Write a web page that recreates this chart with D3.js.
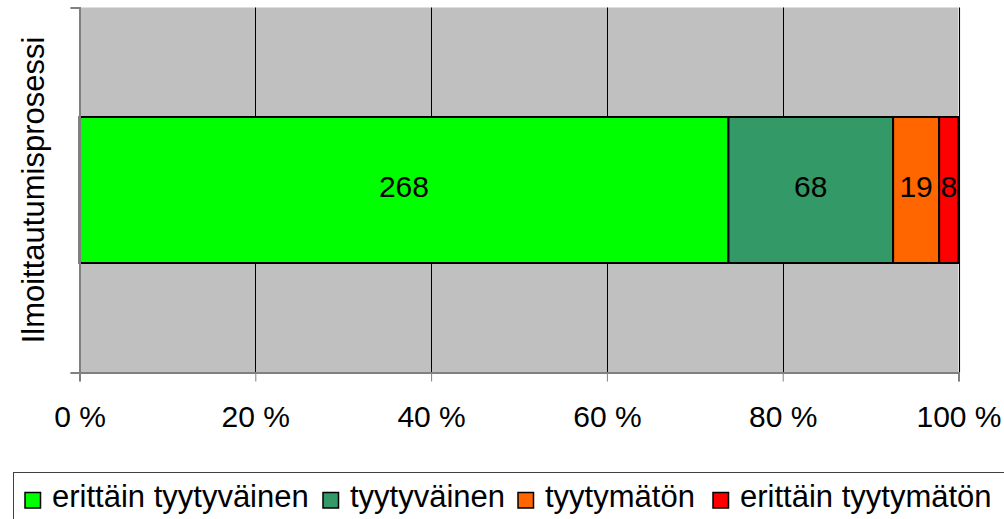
<!DOCTYPE html>
<html lang="fi">
  <head>
    <meta charset="UTF-8" />
    <title>Ilmoittautumisprosessi</title>
    <script src="https://d3js.org/d3.v7.min.js"></script>
    <style>
      * {
        margin: 0;
        padding: 0;
      }
      body {
        background: #fff;
      }
      text {
        font-family: "Liberation Sans", Arial, sans-serif;
        fill: #000;
      }
    </style>
  </head>

  <body></body>

  <script>
    let w = 1004;
    let h = 519;

    // data
    const category = "Ilmoittautumisprosessi";
    const seriesNames = ["erittäin tyytyväinen", "tyytyväinen", "tyytymätön", "erittäin tyytymätön"];
    const seriesValues = [268, 68, 19, 8];
    const seriesColors = ["#00ff00", "#339966", "#ff6600", "#ff0000"];
    const tickValues = [0, 20, 40, 60, 80, 100];

    const plot = { left: 79.5, top: 7.5, right: 958.5, bottom: 372.5 };

    let svg = d3
      .select("body")
      .append("svg")
      .attr("width", w)
      .attr("height", h);

    let total = d3.sum(seriesValues);
    let x = d3.scaleLinear().domain([0, 100]).range([plot.left, plot.right]);
    let y = d3
      .scaleBand()
      .domain([category])
      .range([plot.top, plot.bottom])
      .paddingInner(0)
      .paddingOuter(0.75);

    // plot area background
    svg
      .append("rect")
      .attr("x", plot.left)
      .attr("y", plot.top)
      .attr("width", plot.right - plot.left)
      .attr("height", plot.bottom - plot.top)
      .attr("fill", "#c0c0c0");

    // right edge of plot area
    svg
      .append("line")
      .attr("x1", plot.right + 1)
      .attr("x2", plot.right + 1)
      .attr("y1", plot.top)
      .attr("y2", plot.bottom)
      .attr("stroke", "#e6e6e6")
      .attr("stroke-width", 2);

    // gridlines
    svg
      .append("g")
      .selectAll("line")
      .data(tickValues.slice(1))
      .enter()
      .append("line")
      .attr("x1", (d) => Math.round(x(d)) + 0.5)
      .attr("x2", (d) => Math.round(x(d)) + 0.5)
      .attr("y1", plot.top)
      .attr("y2", plot.bottom)
      .attr("stroke", "#000")
      .attr("stroke-width", 1);

    // stacked segments
    let stack = [];
    let acc = 0;
    seriesValues.forEach((v, i) => {
      stack.push({ name: seriesNames[i], value: v, x0: acc, x1: acc + v, color: seriesColors[i] });
      acc += v;
    });

    let bars = svg.append("g").attr("class", "bars");
    bars
      .selectAll("rect")
      .data(stack)
      .enter()
      .append("rect")
      .attr("x", (d) => x((d.x0 / total) * 100))
      .attr("y", y(category))
      .attr("width", (d) => x((d.x1 / total) * 100) - x((d.x0 / total) * 100))
      .attr("height", y.bandwidth())
      .attr("fill", (d) => d.color)
      .attr("stroke", "#000")
      .attr("stroke-width", 2);

    bars
      .selectAll("text")
      .data(stack)
      .enter()
      .append("text")
      .attr("x", (d) => x(((d.x0 + d.x1) / 2 / total) * 100))
      .attr("y", y(category) + y.bandwidth() / 2 + 7)
      .attr("text-anchor", "middle")
      .style("font-size", "30px")
      .text((d) => d.value);

    // x axis
    let xAxis = d3
      .axisBottom(x)
      .tickValues(tickValues)
      .tickSize(9)
      .tickPadding(24)
      .tickFormat((d) => d + " %");
    let gx = svg
      .append("g")
      .attr("transform", "translate(0," + plot.bottom + ")")
      .call(xAxis);
    gx.select(".domain").attr("stroke", "#808080").attr("stroke-width", 2);
    gx.selectAll(".tick line").attr("stroke", "#808080");
    gx.selectAll(".tick text").style("font-size", "30px").style("font-family", "Liberation Sans, Arial, sans-serif");

    // y axis
    let yAxisScale = d3.scaleLinear().domain([0, 1]).range([plot.bottom, plot.top]);
    let gy = svg
      .append("g")
      .attr("transform", "translate(" + plot.left + ",0)")
      .call(d3.axisLeft(yAxisScale).tickValues([0, 1]).tickSize(9).tickFormat(""));
    gy.select(".domain").attr("stroke", "#808080").attr("stroke-width", 2);
    gy.selectAll(".tick line").attr("stroke", "#808080");

    // y title
    svg
      .append("text")
      .attr("transform", "translate(44," + (plot.top + plot.bottom) / 2 + ") rotate(-90)")
      .attr("text-anchor", "middle")
      .style("font-size", "31px")
      .text(category);

    // legend
    let legend = svg.append("g").attr("class", "legend");
    legend
      .append("rect")
      .attr("x", 13.5)
      .attr("y", 472.5)
      .attr("width", 1000)
      .attr("height", 60)
      .attr("fill", "#fff")
      .attr("stroke", "#404040")
      .attr("stroke-width", 1);

    const legendX = [25, 323, 518, 713];
    let items = legend
      .selectAll("g.item")
      .data(seriesNames)
      .enter()
      .append("g")
      .attr("class", "item")
      .attr("transform", (d, i) => "translate(" + legendX[i] + ",492.5)");
    items
      .append("rect")
      .attr("width", 15.5)
      .attr("height", 15.5)
      .attr("fill", (d, i) => seriesColors[i])
      .attr("stroke", "#000")
      .attr("stroke-width", 1.5);
    items
      .append("text")
      .attr("x", 27)
      .attr("y", 14.5)
      .style("font-size", "31px")
      .text((d) => d);
  </script>
</html>
